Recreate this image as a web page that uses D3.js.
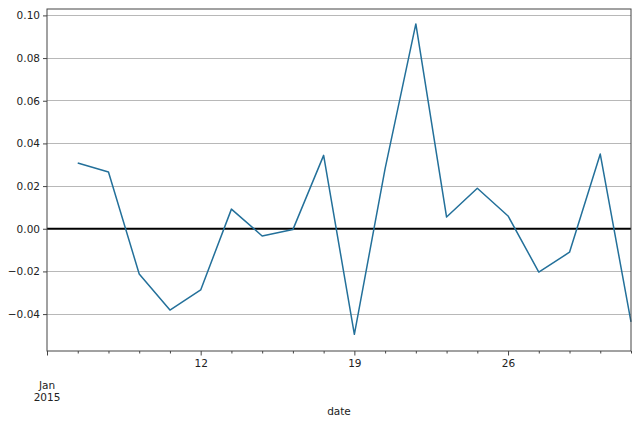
<!DOCTYPE html>
<html>
<head>
<meta charset="utf-8">
<script src="https://cdn.jsdelivr.net/npm/d3@7"></script>
<style>
  html, body { margin: 0; padding: 0; background: #fff; }
  svg { display: block; font-family: "DejaVu Sans", sans-serif; }
</style>
</head>
<body>
<svg id="chart" width="640" height="424"></svg>
<script>
// Business-day axis positions (January 2015)
const axisDays = ["2015-01-05","2015-01-06","2015-01-07","2015-01-08","2015-01-09",
  "2015-01-12","2015-01-13","2015-01-14","2015-01-15","2015-01-16",
  "2015-01-19","2015-01-20","2015-01-21","2015-01-22","2015-01-23",
  "2015-01-26","2015-01-27","2015-01-28","2015-01-29","2015-01-30"];
// Series
const dates = ["2015-01-06","2015-01-07","2015-01-08","2015-01-09",
  "2015-01-12","2015-01-13","2015-01-14","2015-01-15","2015-01-16",
  "2015-01-19","2015-01-20","2015-01-21","2015-01-22","2015-01-23",
  "2015-01-26","2015-01-27","2015-01-28","2015-01-29","2015-01-30"];
const values = [0.0308, 0.0266, -0.0212, -0.0381,
  -0.0287, 0.0092, -0.0034, -0.0004, 0.0344,
  -0.0495, 0.0282, 0.0960, 0.0055, 0.0190,
  0.0060, -0.0203, -0.0110, 0.0350, -0.0437];
// Ticks
const yTicks = [-0.04, -0.02, 0.00, 0.02, 0.04, 0.06, 0.08, 0.10];
const majorXDays = ["2015-01-05","2015-01-12","2015-01-19","2015-01-26"];
const majorXLabels = ["", "12", "19", "26"];
const firstLabel = ["Jan", "2015"];
const xTitle = "date";

const svg = d3.select("#chart");
const pLeft = 47, pRight = 631, pTop = 9, pBottom = 351;

const x = d3.scalePoint().domain(axisDays).range([pLeft, pRight]);
const y = d3.scaleLinear().domain([-0.0573, 0.103]).range([pBottom, pTop]);

// grid
svg.append("g").selectAll("line").data(yTicks).join("line")
  .attr("x1", pLeft).attr("x2", pRight)
  .attr("y1", d => y(d)).attr("y2", d => y(d))
  .attr("stroke", "#b8b8b8").attr("stroke-width", 1)
  .attr("shape-rendering", "crispEdges");

// zero line
svg.append("line")
  .attr("x1", pLeft).attr("x2", pRight)
  .attr("y1", y(0)).attr("y2", y(0))
  .attr("stroke", "#000").attr("stroke-width", 2);

// series line
const line = d3.line()
  .x((d, i) => x(dates[i]))
  .y(d => y(d));
svg.append("path")
  .datum(values)
  .attr("d", line)
  .attr("fill", "none")
  .attr("stroke", "#23709a")
  .attr("stroke-width", 1.5)
  .attr("stroke-linejoin", "round");

// frame
svg.append("rect")
  .attr("x", pLeft).attr("y", pTop)
  .attr("width", pRight - pLeft).attr("height", pBottom - pTop)
  .attr("fill", "none").attr("stroke", "#444").attr("stroke-width", 1);

// y axis
const yAxis = d3.axisLeft(y).tickValues(yTicks).tickSize(4).tickPadding(3)
  .tickFormat(d => d3.format(".2f")(d).replace("-", "\u2212"));
const gy = svg.append("g").attr("transform", `translate(${pLeft},0)`).call(yAxis);
gy.select(".domain").remove();
gy.selectAll(".tick line").attr("stroke", "#444");
gy.selectAll("text").attr("font-size", 10.5).attr("fill", "#222")
  .attr("font-family", "DejaVu Sans, sans-serif");

// x axis minor ticks
const gxMinor = svg.append("g").attr("transform", `translate(0,${pBottom})`)
  .call(d3.axisBottom(x).tickValues(axisDays.filter(d => !majorXDays.includes(d)))
    .tickSize(2.5).tickFormat(""));
gxMinor.select(".domain").remove();
gxMinor.selectAll(".tick line").attr("stroke", "#444");

// x axis major ticks
const gx = svg.append("g").attr("transform", `translate(0,${pBottom})`)
  .call(d3.axisBottom(x).tickValues(majorXDays).tickSize(4.5).tickPadding(4)
    .tickFormat((d, i) => majorXLabels[i]));
gx.select(".domain").remove();
gx.selectAll(".tick line").attr("stroke", "#444");
gx.selectAll("text").attr("font-size", 10.5).attr("fill", "#222")
  .attr("font-family", "DejaVu Sans, sans-serif");

// first label "Jan 2015"
svg.append("g").selectAll("text").data(firstLabel).join("text")
  .attr("x", x(axisDays[0]))
  .attr("y", (d, i) => 389 + i * 11.5)
  .attr("text-anchor", "middle")
  .attr("font-size", 10.5).attr("fill", "#222")
  .text(d => d);

// x title
svg.append("text")
  .attr("x", (pLeft + pRight) / 2).attr("y", 415)
  .attr("text-anchor", "middle")
  .attr("font-size", 10.5).attr("fill", "#222")
  .text(xTitle);
</script>
</body>
</html>
